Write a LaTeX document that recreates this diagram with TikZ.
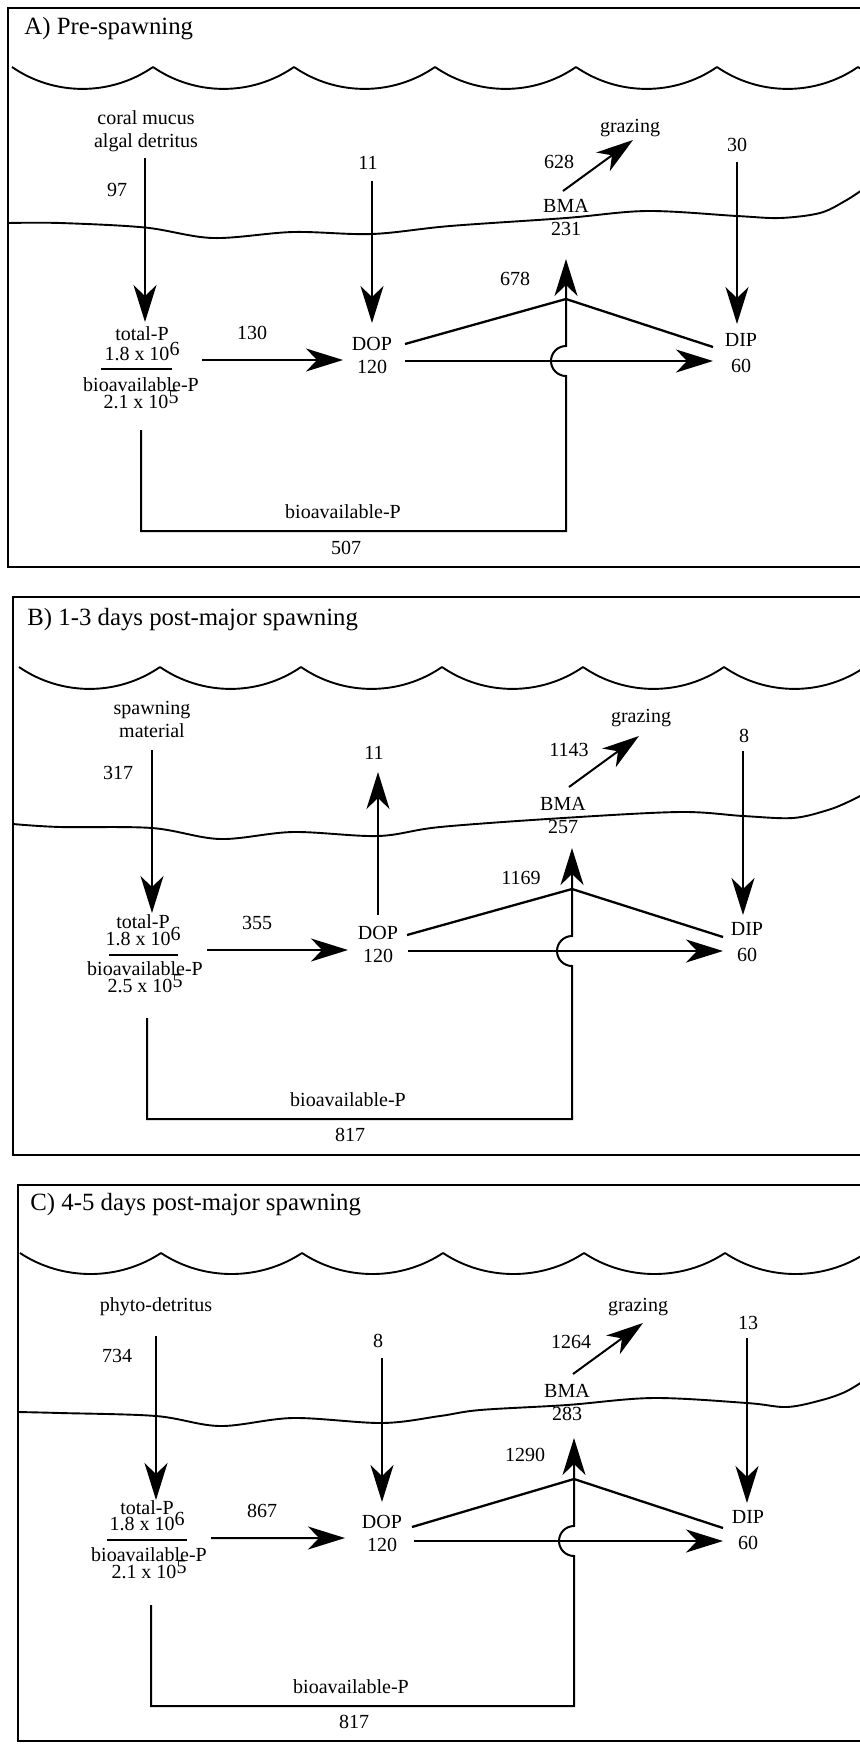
\documentclass[tikz,border=0pt]{standalone}
\usepackage{fontspec}
\setmainfont{Liberation Serif}
\usetikzlibrary{arrows.meta,calc}
\newcommand{\supnum}[1]{\smash{\raisebox{2.5pt}{#1}}}
\tikzset{
  lbl/.style={font=\fontsize{10}{11.5}\selectfont, align=center, inner sep=2pt},
  ttl/.style={font=\fontsize{12.4}{14}\selectfont, anchor=west, inner sep=0pt},
  arr/.style={-{Stealth[length=18.5pt, width=11.5pt, inset=5.5pt]}},
  thinln/.style={line width=0.8pt},
  midln/.style={line width=1.0pt},
  thkln/.style={line width=1.3pt},
  vln/.style={line width=1.15pt},
  barln/.style={line width=1.0pt},
  wave/.style={line width=0.95pt},
  panel/.style={line width=1.1pt},
}
\begin{document}
\begin{tikzpicture}[x=0.5pt, y=-0.5pt]
\useasboundingbox (0,0) rectangle (860,1746);
\clip (0,0) rectangle (860,1746);

%================ Panel A ================
\draw[panel] (8,8) rectangle (875,567);
\node[ttl] (titleA) at (24,28.5) {A) Pre-spawning};
\foreach \i in {0,...,6}
  \draw[wave] ({12+141*\i},67) .. controls +(42.4,29.2) and +(-42.4,29.2) .. ({153+141*\i},67);
\draw[wave] plot[smooth, tension=0.55] coordinates {(8,223) (60,223) (145,227.5) (213,238) (293,232) (372,234) (450,226) (566,218) (647,211) (737,216) (780,218) (820,213) (845,201) (862,190)};

\node[lbl] (srcA) at (146,131) {coral mucus\\algal detritus};
\node[lbl] (n97A) at (117,190) {97};
\node[lbl] (tpA) at (142,343.5) {total-P\\[-1.5pt]1.8 x 10\supnum{6}};
\node[lbl] (baA) at (141,393) {bioavailable-P\\[-3pt]2.1 x 10\supnum{5}};
\node[lbl] (n130A) at (252,333) {130};
\node[lbl] (n11A) at (368,163) {11};
\node[lbl] (dopA) at (372,355.5) {DOP\\120};
\node[lbl] (bmaA) at (566,217.5) {BMA\\231};
\node[lbl] (grazA) at (630,128) {grazing};
\node[lbl] (n628A) at (559,162) {628};
\node[lbl] (n30A) at (737,145) {30};
\node[lbl] (dipA) at (741,353) {DIP\\[1.5pt]60};
\node[lbl] (n678A) at (515,279) {678};
\node[lbl] (blA) at (343,512) {bioavailable-P};
\node[lbl] (n507A) at (346,548) {507};
\coordinate (apexA) at (566,299);

\draw[barln] ([shift={(-41,25.5)}]tpA.center) -- ([shift={(30,25.5)}]tpA.center);
\draw[thinln,arr] ([shift={(-1,27)}]srcA.center) -- ([shift={(3,-21.5)}]tpA.center);
\draw[thinln,arr] ([shift={(4,18)}]n11A.center) -- ([shift={(0,-32.5)}]dopA.center);
\draw[thinln,arr] ([shift={(0,17)}]n30A.center) -- ([shift={(-4,-29)}]dipA.center);
\draw[midln,arr] ([shift={(-3,-26.5)}]bmaA.center) -- ([shift={(3,12)}]grazA.center);
\draw[midln,arr] ([shift={(60,16.5)}]tpA.center) -- ([shift={(-29,4.5)}]dopA.center);
\draw[thkln,arr] ([shift={(33,5.5)}]dopA.center) -- ([shift={(-28,8)}]dipA.center);
\draw[vln] ([shift={(33,-11.5)}]dopA.center) -- (apexA) -- ([shift={(-28,-6)}]dipA.center);
\draw[midln,arr] ([shift={(0,37)}]baA.center) -- ++(0,101) -- ++(425,0) -- ++(0,-155)
  arc[start angle=90, end angle=270, radius=15] -- ([shift={(0,41.5)}]bmaA.center);

%================ Panel B ================
\draw[panel] (13,597) rectangle (875,1155);
\node[ttl] (titleB) at (27,620) {B) 1-3 days post-major spawning};
\foreach \i in {0,...,6}
  \draw[wave] ({19+141*\i},667) .. controls +(42.4,29.2) and +(-42.4,29.2) .. ({160+141*\i},667);
\draw[wave] plot[smooth, tension=0.55] coordinates {(13,824) (60,827) (152,828) (220,839) (293,832) (378,836) (440,827) (563,818) (680,812) (743,816) (793,818) (828,810) (848,802) (862,795)};

\node[lbl] (srcB) at (152,719.5) {spawning\\material};
\node[lbl] (n317B) at (118,773) {317};
\node[lbl] (tpB) at (143,930) {total-P\\[-3pt]1.8 x 10\supnum{6}};
\node[lbl] (baB) at (145,977) {bioavailable-P\\[-3pt]2.5 x 10\supnum{5}};
\node[lbl] (n355B) at (257,923) {355};
\node[lbl] (n11B) at (374,753) {11};
\node[lbl] (dopB) at (378,944.5) {DOP\\120};
\node[lbl] (bmaB) at (563,815.5) {BMA\\257};
\node[lbl] (grazB) at (641,718) {grazing};
\node[lbl] (n1143B) at (569,750) {1143};
\node[lbl] (n8B) at (744,736) {8};
\node[lbl] (dipB) at (747,942) {DIP\\[1.5pt]60};
\node[lbl] (n1169B) at (521,878) {1169};
\node[lbl] (blB) at (348,1100) {bioavailable-P};
\node[lbl] (n817B) at (350,1135) {817};
\coordinate (apexB) at (572,889);

\draw[barln] ([shift={(-34,25)}]tpB.center) -- ([shift={(35,25)}]tpB.center);
\draw[thinln,arr] ([shift={(0,30.5)}]srcB.center) -- ([shift={(9,-17)}]tpB.center);
\draw[midln,arr] ([shift={(0,-29.5)}]dopB.center) -- ([shift={(4,19)}]n11B.center);
\draw[thinln,arr] ([shift={(-1,15)}]n8B.center) -- ([shift={(-4,-27)}]dipB.center);
\draw[midln,arr] ([shift={(6,-28.5)}]bmaB.center) -- ([shift={(-2,18)}]grazB.center);
\draw[midln,arr] ([shift={(64,20)}]tpB.center) -- ([shift={(-30,5.5)}]dopB.center);
\draw[thkln,arr] ([shift={(30,6.5)}]dopB.center) -- ([shift={(-24,9)}]dipB.center);
\draw[vln] ([shift={(29,-9.5)}]dopB.center) -- (apexB) -- ([shift={(-24,-5)}]dipB.center);
\draw[midln,arr] ([shift={(2,41)}]baB.center) -- ++(0,101) -- ++(425,0) -- ++(0,-153)
  arc[start angle=90, end angle=270, radius=15] -- ([shift={(9,32.5)}]bmaB.center);

%================ Panel C ================
\draw[panel] (18,1185) rectangle (875,1741);
\node[ttl] (titleC) at (30,1205) {C) 4-5 days post-major spawning};
\foreach \i in {0,...,6}
  \draw[wave] ({20+141*\i},1253) .. controls +(42.4,28) and +(-42.4,28) .. ({161+141*\i},1253);
\draw[wave] plot[smooth, tension=0.55] coordinates {(18,1412) (60,1413) (156,1416) (220,1426) (293,1418) (382,1423) (440,1416) (480,1410) (567,1405) (653,1398) (747,1403) (787,1407) (822,1400) (845,1392) (862,1382)};

\node[lbl] (srcC) at (156,1307) {phyto-detritus};
\node[lbl] (n734C) at (117,1356) {734};
\node[lbl] (tpC) at (147,1515.7) {total-P\\[-3.5pt]1.8 x 10\supnum{6}};
\node[lbl] (baC) at (149,1563) {bioavailable-P\\[-3pt]2.1 x 10\supnum{5}};
\node[lbl] (n867C) at (262,1511) {867};
\node[lbl] (n8C) at (378,1341) {8};
\node[lbl] (dopC) at (382,1533.5) {DOP\\120};
\node[lbl] (bmaC) at (567,1402.5) {BMA\\283};
\node[lbl] (grazC) at (638,1307) {grazing};
\node[lbl] (n1264C) at (571,1342) {1264};
\node[lbl] (n13C) at (748,1323) {13};
\node[lbl] (dipC) at (748,1530) {DIP\\[1.5pt]60};
\node[lbl] (n1290C) at (525,1455) {1290};
\node[lbl] (blC) at (351,1687) {bioavailable-P};
\node[lbl] (n817C) at (354,1722) {817};
\coordinate (apexC) at (574,1479);

\draw[barln] ([shift={(-40,24.3)}]tpC.center) -- ([shift={(40,24.3)}]tpC.center);
\draw[thinln,arr] ([shift={(0,29)}]srcC.center) -- ([shift={(9,-15.7)}]tpC.center);
\draw[thinln,arr] ([shift={(4,17)}]n8C.center) -- ([shift={(0,-31.5)}]dopC.center);
\draw[thinln,arr] ([shift={(-1,15)}]n13C.center) -- ([shift={(-1,-27)}]dipC.center);
\draw[midln,arr] ([shift={(6,-28.5)}]bmaC.center) -- ([shift={(5,16)}]grazC.center);
\draw[midln,arr] ([shift={(64,22.3)}]tpC.center) -- ([shift={(-37,4.5)}]dopC.center);
\draw[thkln,arr] ([shift={(32,7.5)}]dopC.center) -- ([shift={(-25,11)}]dipC.center);
\draw[vln] ([shift={(30,-6.5)}]dopC.center) -- (apexC) -- ([shift={(-25,-2)}]dipC.center);
\draw[midln,arr] ([shift={(2,42)}]baC.center) -- ++(0,101) -- ++(423,0) -- ++(0,-150)
  arc[start angle=90, end angle=270, radius=15] -- ([shift={(7,35.5)}]bmaC.center);
\end{tikzpicture}
\end{document}
